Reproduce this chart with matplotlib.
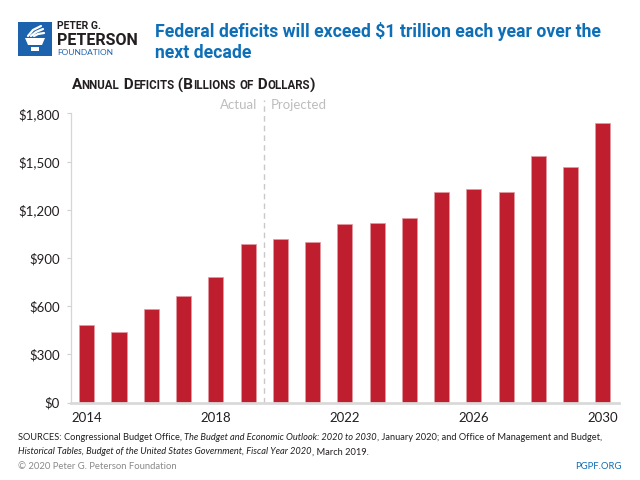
import matplotlib
matplotlib.use("Agg")
import matplotlib.pyplot as plt
from matplotlib.patches import Rectangle, Polygon
from matplotlib.ticker import FuncFormatter
from matplotlib.offsetbox import TextArea, HPacker, AnchoredOffsetbox

# data: annual deficits, billions of dollars
years = list(range(2014, 2031))
deficits = [485, 439, 585, 665, 779, 984, 1015, 1000, 1114, 1117, 1148, 1312, 1328, 1310, 1534, 1463, 1739]
year_ticks = [2014, 2018, 2022, 2026, 2030]
value_ticks = [0, 300, 600, 900, 1200, 1500, 1800]
split_year = 2019.5

RED = "#BE1E2D"
BLUE = "#0E6FB7"
LOGO_BLUE = "#1D62AD"
DARK = "#231F20"
GRAY = "#BDBDBD"

plt.rcParams['font.family'] = ['Lato', 'DejaVu Sans']
NARROW = ['Liberation Sans Narrow', 'Roboto', 'DejaVu Sans']

fig = plt.figure(figsize=(6.4, 4.8), dpi=100)
W, H = 640, 480

def fx(x):
    return x / W

def fy(y):
    return 1 - y / H

# main axes
ax = fig.add_axes([fx(70.7), fy(402.5), fx(619) - fx(70.7), fy(113.3) - fy(402.5)])
ax.bar(years, deficits, width=0.47, color=RED, edgecolor="#E39AA2", linewidth=0.5, zorder=2)
ax.set_xlim(2013.5, 2030.5)
ax.set_ylim(0, 1800)
ax.set_xticks(year_ticks)
ax.set_yticks(value_ticks)
ax.yaxis.set_major_formatter(FuncFormatter(lambda v, p: f"${v:,.0f}"))
ax.tick_params(axis='x', length=0, pad=7, labelsize=9.5, labelcolor=DARK)
ax.tick_params(axis='y', length=3, width=0.8, color="#CFCFCF", pad=5, labelsize=9.5, labelcolor=DARK)
for s in ['top', 'right']:
    ax.spines[s].set_visible(False)
ax.spines['left'].set_color("#D6D6D6")
ax.spines['left'].set_linewidth(0.9)
ax.spines['bottom'].set_color("#D9D9D9")
ax.spines['bottom'].set_linewidth(2)

# actual / projected divider
ax.axvline(split_year, ymin=0, ymax=1.045, color="#C8C8C8", linestyle=(0, (4, 3)),
           linewidth=1, clip_on=False, zorder=1)
ax.text(split_year - 0.2, 1.03, "Actual", transform=ax.get_xaxis_transform(),
        ha='right', va='center', fontsize=9.5, color=GRAY)
ax.text(split_year + 0.2, 1.03, "Projected", transform=ax.get_xaxis_transform(),
        ha='left', va='center', fontsize=9.5, color=GRAY)

# title
fig.text(fx(155), fy(31.5), "Federal deficits will exceed $1 trillion each year over the",
         fontsize=12.7, fontweight='bold', color=BLUE, family=NARROW, va='center')
fig.text(fx(155), fy(52.5), "next decade",
         fontsize=12.7, fontweight='bold', color=BLUE, family=NARROW, va='center')

# logo
fig.add_artist(Rectangle((fx(18), fy(56)), fx(34), 34 / H, transform=fig.transFigure,
                         facecolor=LOGO_BLUE, edgecolor='none'))
cup = [(25, 38), (45, 38), (42, 45), (28, 45)]
fig.add_artist(Polygon([(fx(a), fy(b)) for a, b in cup], closed=True,
                       transform=fig.transFigure, facecolor='white', edgecolor='none'))
fig.add_artist(Rectangle((fx(31), fy(51)), fx(8), 4 / H, transform=fig.transFigure,
                         facecolor='white', edgecolor='none'))
for xs, ys in [([28, 33, 41], [36, 30, 26]), ([31, 36, 43], [36, 32, 29]), ([34, 38, 44], [36, 34, 33])]:
    fig.add_artist(plt.Line2D([fx(v) for v in xs], [fy(v) for v in ys], transform=fig.transFigure,
                              color='white', linewidth=1.6, solid_capstyle='round'))
fig.text(fx(57), fy(26), "PETER G.", fontsize=7.5, fontweight='bold', color=DARK,
         family=NARROW, va='center')
fig.text(fx(56.5), fy(40.5), "PETERSON", fontsize=11.5, fontweight='bold', color=DARK,
         family=NARROW, va='center')
fig.text(fx(57.5), fy(52.5), "FOUNDATION", fontsize=6, color=LOGO_BLUE, va='center')


def small_caps(text, big, small, **props):
    runs = []
    for c in text:
        kind = c.islower()
        if runs and runs[-1][0] == kind:
            runs[-1][1] += c
        else:
            runs.append([kind, c])
    boxes = [TextArea(s.upper(), textprops=dict(size=small if k else big, **props)) for k, s in runs]
    return HPacker(children=boxes, align='baseline', pad=0, sep=0)


sub = small_caps("Annual Deficits (Billions of Dollars)", 11, 8.3,
                 fontweight='bold', color=DARK, family=NARROW)
fig.add_artist(AnchoredOffsetbox(loc='center left', child=sub, bbox_to_anchor=(fx(71.5), fy(85)),
                                 bbox_transform=fig.transFigure, frameon=False, pad=0, borderpad=0))

# sources: pieces laid end to end on a shared baseline
renderer = fig.canvas.get_renderer()


def run_line(parts, x0, y0, size=6.7):
    x = fx(x0)
    for t, it in parts:
        txt = fig.text(x, fy(y0), t, fontsize=size, color=DARK, va='baseline',
                       style='italic' if it else 'normal')
        bb = txt.get_window_extent(renderer)
        x = bb.x1 / fig.bbox.width


run_line([("SOURCES: Congressional Budget Office, ", False),
          ("The Budget and Economic Outlook: 2020 to 2030", True),
          (", January 2020; and Office of Management and Budget,", False)], 18, 440.5)
run_line([("Historical Tables, Budget of the United States Government, Fiscal Year 2020", True),
          (", March 2019.", False)], 18, 454.5)

fig.text(fx(18), fy(466.5), "\u00a9 2020 Peter G. Peterson Foundation", fontsize=6.8, color="#8A8A8A",
         va='center')
fig.text(fx(622), fy(466.5), "PGPF.ORG", fontsize=6.8, color=BLUE, va='center', ha='right')

fig.savefig("out.png", dpi=100)
